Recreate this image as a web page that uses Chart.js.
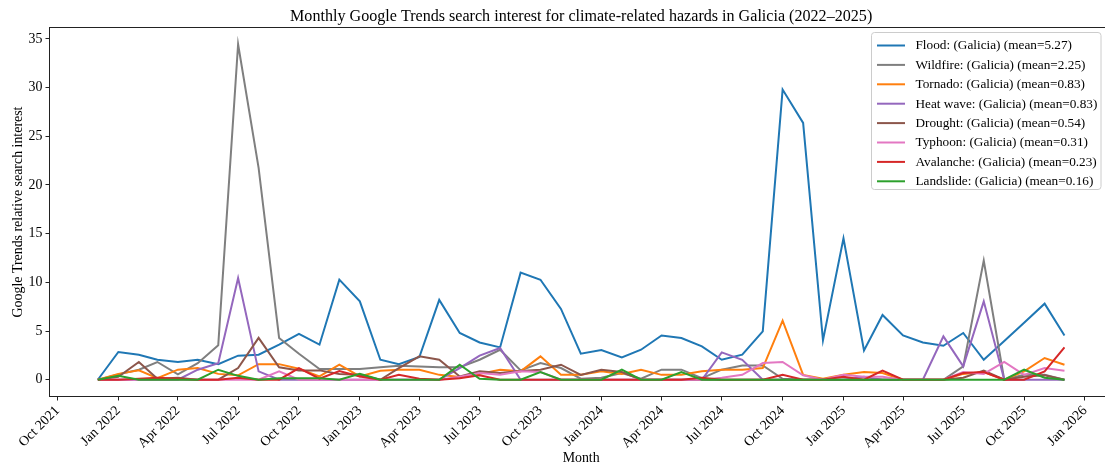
<!DOCTYPE html>
<html>
<head>
<meta charset="utf-8">
<script src="https://cdn.jsdelivr.net/npm/chart.js@4.4.1/dist/chart.umd.min.js"></script>
<style>
  html, body { margin: 0; padding: 0; background: #fff; overflow: hidden; }
  #wrap { width: 1105px; height: 467px; overflow: hidden; }
  canvas { display: block; }
</style>
</head>
<body>
<div id="wrap"><canvas id="chart" width="1120" height="467"></canvas></div>
<script>
// Monthly observations (first day of each month)
const months = [
  '2021-12',
  '2022-01','2022-02','2022-03','2022-04','2022-05','2022-06','2022-07','2022-08','2022-09','2022-10','2022-11','2022-12',
  '2023-01','2023-02','2023-03','2023-04','2023-05','2023-06','2023-07','2023-08','2023-09','2023-10','2023-11','2023-12',
  '2024-01','2024-02','2024-03','2024-04','2024-05','2024-06','2024-07','2024-08','2024-09','2024-10','2024-11','2024-12',
  '2025-01','2025-02','2025-03','2025-04','2025-05','2025-06','2025-07','2025-08','2025-09','2025-10','2025-11','2025-12'
];

const flood = [0, 2.85, 2.57, 2.05, 1.82, 2.05, 1.6, 2.47, 2.57, 3.6, 4.7, 3.6,
  10.28, 8.05, 2.05, 1.6, 2.33, 8.2, 4.8, 3.83, 3.32, 11.0, 10.27, 7.27,
  2.67, 3.05, 2.3, 3.08, 4.55, 4.28, 3.42, 2.05, 2.57, 4.97, 29.8, 26.38,
  4.04, 14.52, 3.01, 6.65, 4.55, 3.83, 3.49, 4.8, 2.05, 3.97, 5.86, 7.81, 4.55];
const wildfire = [0, 0.55, 1.03, 1.82, 0.56, 1.7, 3.55, 34.45, 21.75, 4.28, 2.67, 1.1,
  1.1, 1.1, 1.27, 1.44, 1.37, 1.27, 1.27, 2.05, 3.08, 0.96, 1.71, 1.2,
  0.1, 0.2, 0.68, 0.1, 1.03, 1.03, 0.17, 1.03, 1.47, 1.47, 0.1, 0,
  0, 0, 0, 0, 0, 0, 0, 1.37, 12.23, 0, 0.5, 0.5, 0];
const tornado = [0, 0.6, 0.96, 0.17, 1.03, 1.2, 0.6, 0.45, 1.6, 1.6, 1.13, 0.34,
  1.54, 0.34, 0.92, 1.03, 1.03, 0.5, 0.27, 0.6, 1.03, 0.86, 2.4, 0.5,
  0.5, 0.86, 0.6, 1.03, 0.5, 0.5, 0.86, 1.03, 1.03, 1.2, 6.06, 0.5,
  0.1, 0.5, 0.79, 0.68, 0, 0, 0, 0.6, 0.79, 0, 0.86, 2.23, 1.54];
const heatWave = [0, 0, 0, 0, 0, 1.03, 1.7, 10.45, 0.86, 0, 0, 0,
  0, 0, 0, 0, 0, 0, 1.2, 2.47, 3.25, 0, 0, 0,
  0, 0, 0, 0, 0, 0, 0, 2.81, 2.05, 0, 0, 0,
  0, 0, 0.3, 0, 0, 0, 4.45, 1.37, 8.05, 0, 0, 0, 0];
const drought = [0, 0.3, 1.82, 0.1, 0.2, 0, 0, 1.2, 4.3, 1.27, 0.96, 0.96,
  0.6, 0.5, 0, 1.2, 2.4, 2.05, 0.34, 0.86, 0.68, 0.9, 1.03, 1.54,
  0.5, 1.03, 0.79, 0, 0, 0, 0, 0, 0, 0, 0, 0,
  0, 0, 0, 0, 0, 0, 0, 0.2, 0.93, 0, 0.3, 0.45, 0];
const typhoon = [0, 0, 0, 0, 0, 0, 0, 0, 0, 0.86, 0, 0,
  0, 0, 0, 0, 0, 0, 0.3, 0.68, 0.5, 0.86, 0.79, 0,
  0, 0, 0, 0, 0, 0, 0, 0.2, 0.5, 1.71, 1.82, 0.45,
  0, 0.5, 0.3, 0.3, 0, 0, 0, 0.79, 0.6, 1.82, 0.5, 1.2, 0.93];
const avalanche = [0, 0, 0.1, 0.2, 0.1, 0, 0, 0.2, 0, 0, 1.2, 0.1,
  0.9, 0.34, 0, 0.5, 0.1, 0, 0.15, 0.45, 0, 0, 0, 0,
  0, 0, 0, 0, 0, 0, 0.2, 0, 0, 0, 0.5, 0,
  0, 0.3, 0, 0.93, 0, 0, 0, 0.68, 0.79, 0, 0, 0.86, 3.32];
const landslide = [0, 0.4, 0, 0, 0, 0, 1.03, 0.4, 0, 0.15, 0.15, 0.15,
  0, 0.6, 0, 0, 0, 0, 1.54, 0.1, 0, 0, 0.79, 0,
  0, 0, 1.03, 0, 0, 0.79, 0, 0, 0, 0, 0, 0,
  0, 0, 0, 0, 0, 0, 0, 0, 0, 0, 1.03, 0.2, 0];

const seriesNames = ['Flood', 'Wildfire', 'Tornado', 'Heat wave', 'Drought', 'Typhoon', 'Avalanche', 'Landslide'];
const seriesMeans = ['5.27', '2.25', '0.83', '0.83', '0.54', '0.31', '0.23', '0.16'];
const seriesColors = ['#1f77b4', '#7f7f7f', '#ff7f0e', '#9467bd', '#8c564b', '#e377c2', '#d62728', '#2ca02c'];
const seriesValues = [flood, wildfire, tornado, heatWave, drought, typhoon, avalanche, landslide];

// Quarterly x-axis ticks
const tickMonths = ['2021-10','2022-01','2022-04','2022-07','2022-10','2023-01','2023-04','2023-07','2023-10',
  '2024-01','2024-04','2024-07','2024-10','2025-01','2025-04','2025-07','2025-10','2026-01'];
const tickLabels = ['Oct 2021','Jan 2022','Apr 2022','Jul 2022','Oct 2022','Jan 2023','Apr 2023','Jul 2023','Oct 2023',
  'Jan 2024','Apr 2024','Jul 2024','Oct 2024','Jan 2025','Apr 2025','Jul 2025','Oct 2025','Jan 2026'];
const yTicks = [0, 5, 10, 15, 20, 25, 30, 35];

const DAY = 86400000;
function toDay(ym) {
  const [y, m] = ym.split('-').map(Number);
  return Date.UTC(y, m - 1, 1) / DAY;
}
const xDays = months.map(toDay);
const tickDays = tickMonths.map(toDay);
const span = xDays[xDays.length - 1] - xDays[0];
const xMin = xDays[0] - span * 0.05;
const xMax = xDays[xDays.length - 1] + span * 0.05;
const yDataMax = Math.max(...seriesValues.flat());
const yMin = -yDataMax * 0.05;
const yMax = yDataMax * 1.05;

const SERIF = "'Liberation Serif', 'Times New Roman', 'DejaVu Serif', serif";
const tickFont = { family: SERIF, size: 13.9 };

const datasets = seriesNames.map((name, i) => ({
  label: name + ': (Galicia) (mean=' + seriesMeans[i] + ')',
  data: seriesValues[i].map((v, k) => ({ x: xDays[k], y: v })),
  borderColor: seriesColors[i],
  backgroundColor: seriesColors[i],
  borderWidth: 2,
  pointRadius: 0,
  tension: 0,
  fill: false,
  order: seriesNames.length - i
}));

const framePlugin = {
  id: 'frame',
  afterDatasetsDraw(chart) {
    const { ctx, chartArea: a } = chart;
    ctx.save();
    ctx.strokeStyle = '#222';
    ctx.lineWidth = 1;
    ctx.strokeRect(a.left, a.top, a.right - a.left, a.bottom - a.top);
    ctx.restore();
  }
};

const titlePlugin = {
  id: 'plotTitle',
  afterDraw(chart) {
    const { ctx, chartArea: a } = chart;
    ctx.save();
    ctx.fillStyle = '#000';
    ctx.font = "16.1px " + SERIF;
    ctx.textAlign = 'center';
    ctx.textBaseline = 'middle';
    ctx.fillText('Monthly Google Trends search interest for climate-related hazards in Galicia (2022\u20132025)', (a.left + a.right) / 2, 16.5);
    ctx.restore();
  }
};

const legendPlugin = {
  id: 'boxLegend',
  afterDraw(chart) {
    const { ctx } = chart;
    const x = 871.5, y = 32.5, w = 229.5, h = 157, r = 3;
    ctx.save();
    ctx.beginPath();
    ctx.moveTo(x + r, y);
    ctx.arcTo(x + w, y, x + w, y + h, r);
    ctx.arcTo(x + w, y + h, x, y + h, r);
    ctx.arcTo(x, y + h, x, y, r);
    ctx.arcTo(x, y, x + w, y, r);
    ctx.closePath();
    ctx.fillStyle = 'rgba(255,255,255,0.8)';
    ctx.fill();
    ctx.strokeStyle = '#cccccc';
    ctx.lineWidth = 1;
    ctx.stroke();
    ctx.font = "13.25px " + SERIF;
    ctx.textAlign = 'left';
    ctx.textBaseline = 'middle';
    chart.data.datasets.forEach((ds, i) => {
      const yy = 45.5 + i * 19.4;
      ctx.strokeStyle = ds.borderColor;
      ctx.lineWidth = 2;
      ctx.beginPath();
      ctx.moveTo(877, yy);
      ctx.lineTo(905, yy);
      ctx.stroke();
      ctx.fillStyle = '#000';
      ctx.fillText(ds.label, 915.5, yy + 0.5);
    });
    ctx.restore();
  }
};

new Chart(document.getElementById('chart'), {
  type: 'line',
  data: { datasets },
  options: {
    responsive: false,
    animation: false,
    devicePixelRatio: 1,
    layout: { padding: { top: 27.5, right: 7.2, left: 0, bottom: 0 } },
    plugins: { legend: { display: false }, tooltip: { enabled: false }, title: { display: false } },
    scales: {
      x: {
        type: 'linear',
        min: xMin,
        max: xMax,
        afterFit(s) { s.height = 70.5; },
        afterBuildTicks(s) { s.ticks = tickDays.map(v => ({ value: v })); },
        ticks: {
          autoSkip: false,
          minRotation: 45,
          maxRotation: 45,
          color: '#000',
          font: tickFont,
          padding: 2,
          callback: (v, i) => tickLabels[i]
        },
        grid: { drawOnChartArea: false, drawTicks: true, tickLength: 4, color: '#222', lineWidth: 1 },
        border: { display: false },
        title: { display: true, text: 'Month', color: '#000', font: tickFont, padding: { top: 0, bottom: 0 } }
      },
      y: {
        type: 'linear',
        min: yMin,
        max: yMax,
        afterFit(s) { s.width = 49.5; },
        afterBuildTicks(s) { s.ticks = yTicks.map(v => ({ value: v })); },
        ticks: { color: '#000', font: tickFont, padding: 3 },
        grid: { drawOnChartArea: false, drawTicks: true, tickLength: 4, color: '#222', lineWidth: 1 },
        border: { display: false },
        title: { display: true, text: 'Google Trends relative search interest', color: '#000', font: tickFont, padding: { top: 10, bottom: 0 } }
      }
    }
  },
  plugins: [framePlugin, titlePlugin, legendPlugin]
});
</script>
</body>
</html>
